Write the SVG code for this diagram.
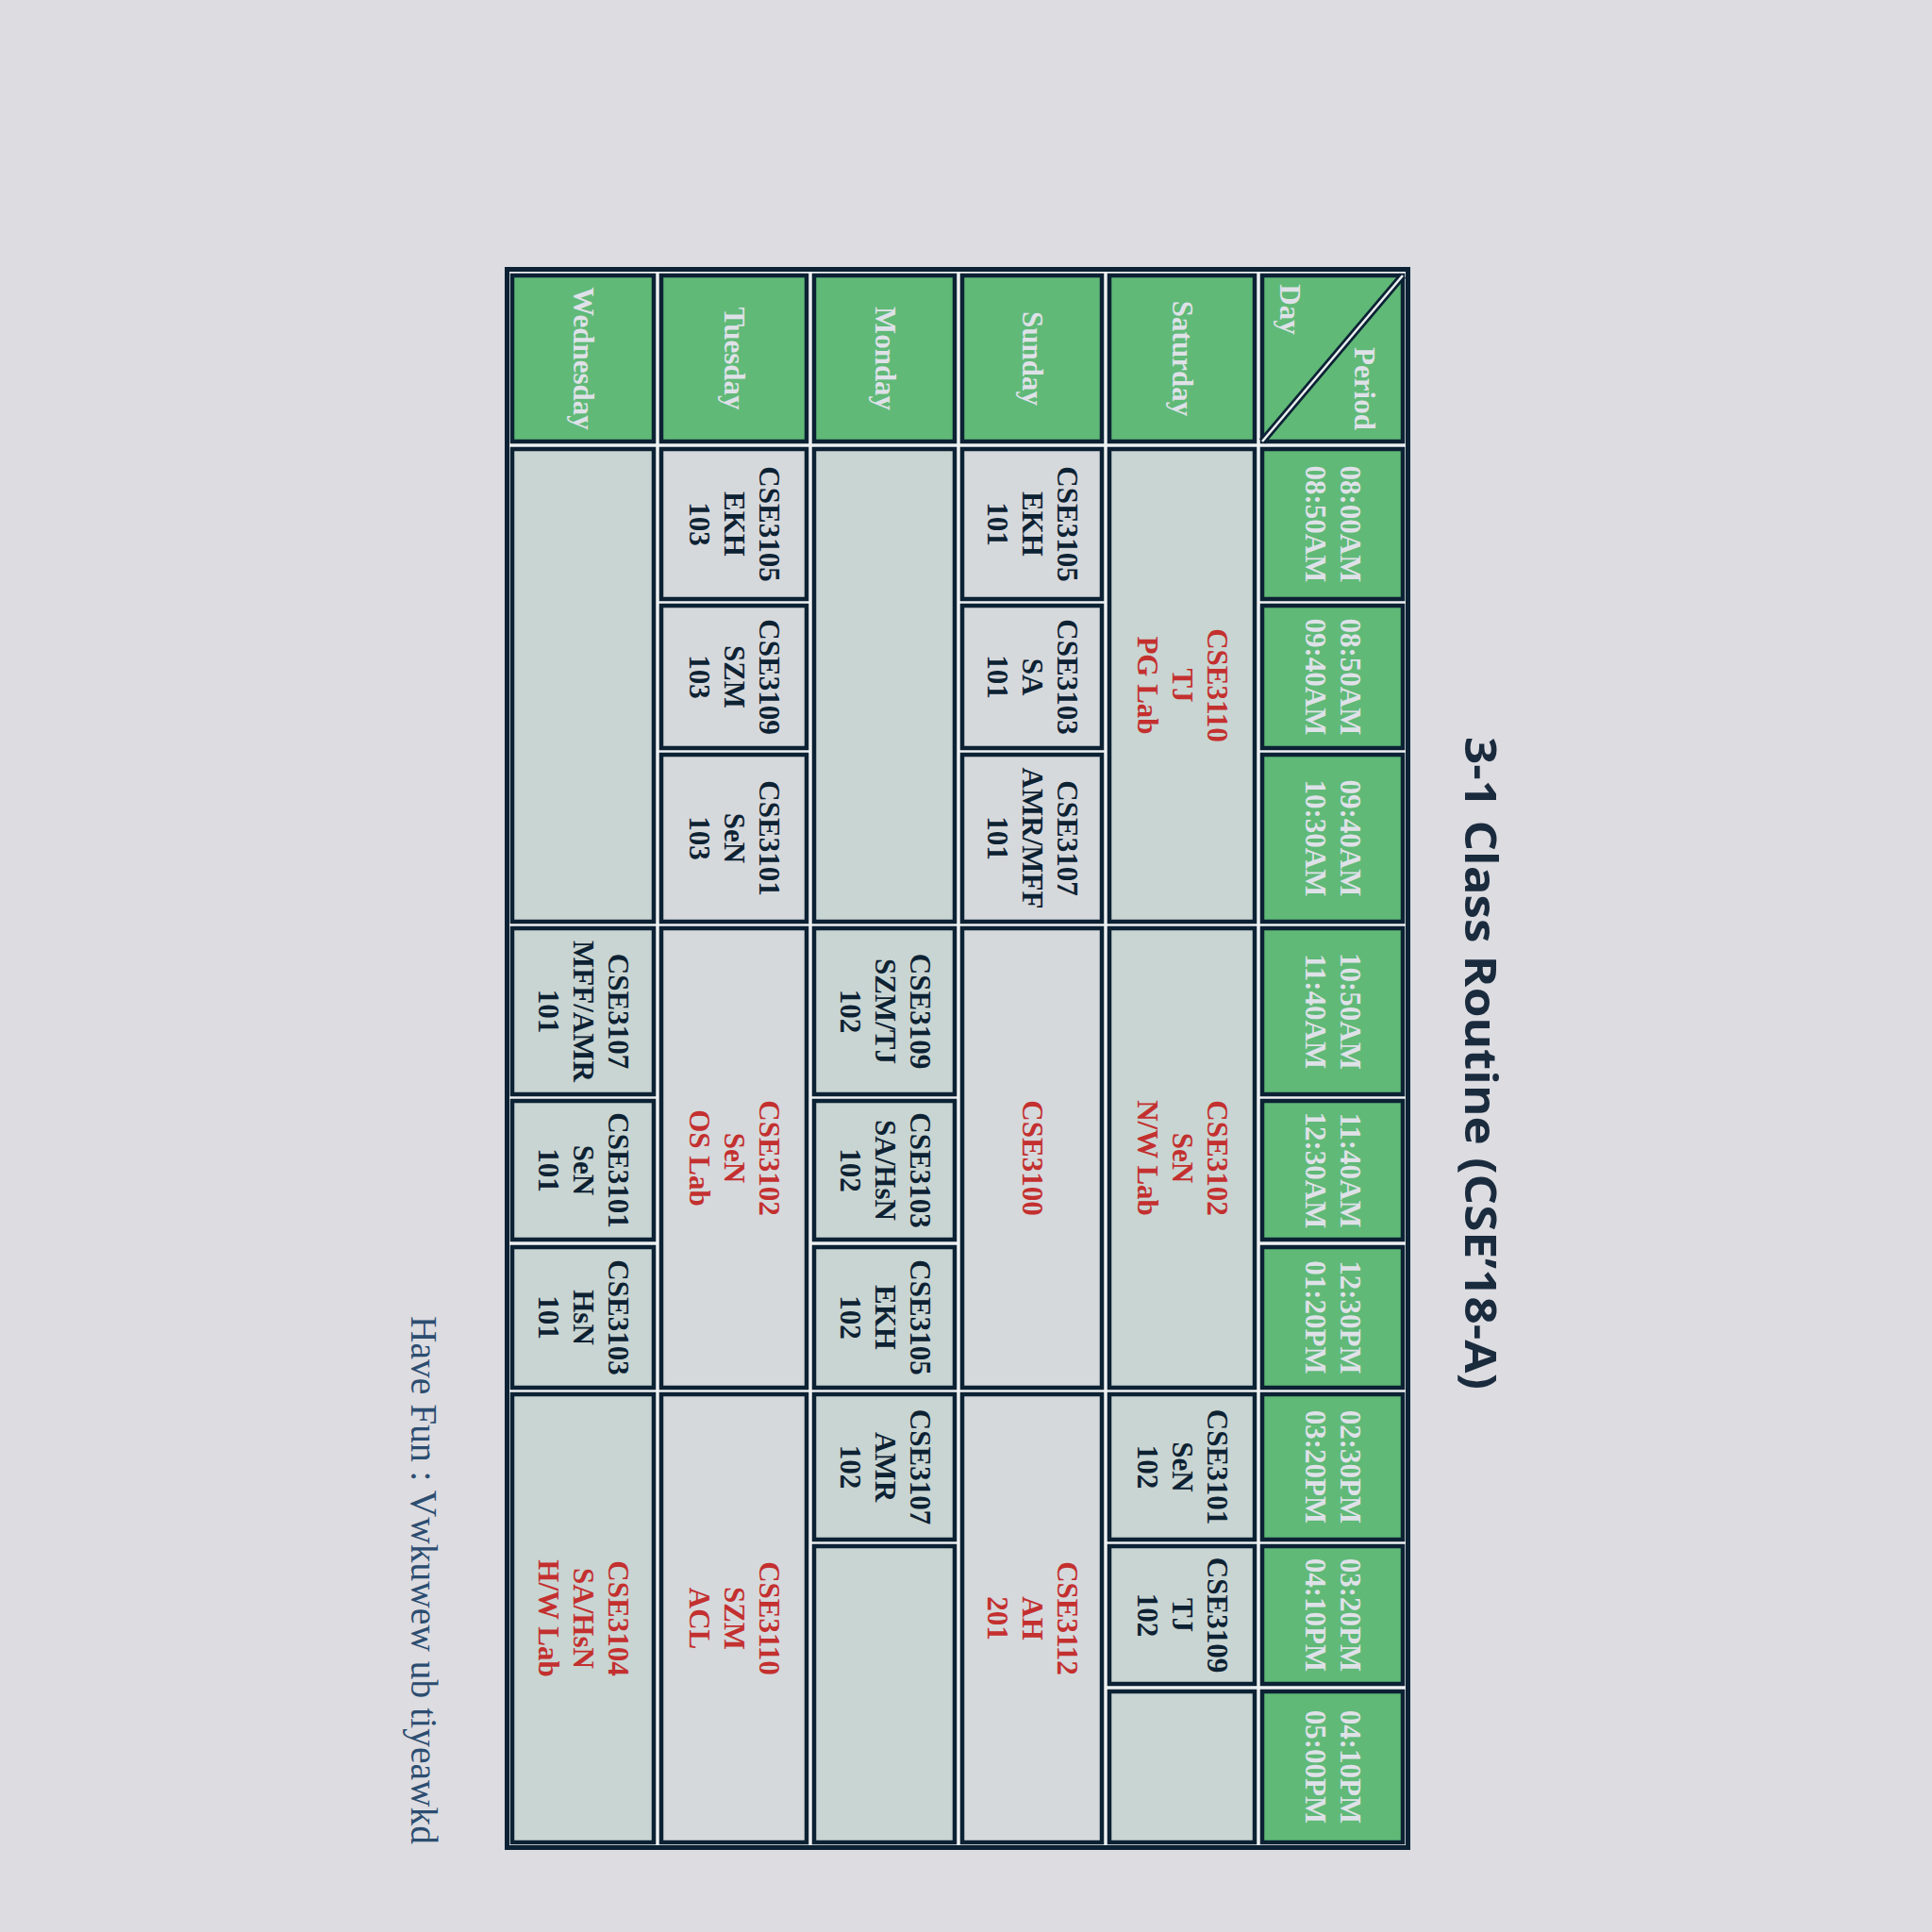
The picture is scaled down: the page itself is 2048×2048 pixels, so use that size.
<svg xmlns="http://www.w3.org/2000/svg" width="2048" height="2048" viewBox="0 0 2048 2048">
<style>
.bg{fill:#dcdce1}
.tbl{fill:#eef1f2;stroke:#0c2234;stroke-width:5}
.g{fill:#60b977;stroke:#0c2234;stroke-width:4.5}
.a{fill:#c9d5d2;stroke:#0c2234;stroke-width:4.5}
.b{fill:#d6d9dc;stroke:#0c2234;stroke-width:4.5}
text{font-family:"Liberation Serif","Times New Roman",serif;font-weight:bold;font-size:31px;text-anchor:middle}
.h{fill:#dfe1e8}
.d{fill:#0d2233}
.r{fill:#c3302f}
.title{font-family:"Open Sans","Noto Sans",sans-serif;font-weight:700;font-size:46px;fill:#1b2b3e}
.foot{font-family:"Liberation Serif","Times New Roman",serif;font-weight:normal;font-size:39px;fill:#2c4d70;text-anchor:start}
</style>
<rect class="bg" x="0" y="0" width="2048" height="2048"/>
<g id="title"><text class="title" transform="translate(1553,1127) rotate(90)" x="0" y="0" textLength="692" lengthAdjust="spacingAndGlyphs">3-1 Class Routine (CSE’18-A)</text></g>
<g id="footer"><text class="foot" transform="translate(436,1395) rotate(90)" x="0" y="0" textLength="560" lengthAdjust="spacingAndGlyphs">Have Fun :  Vwkuwew ub tiyeawkd</text></g>
<g id="table">
<rect class="tbl" x="537.5" y="285.5" width="955" height="1673"/>
</g>
<g id="connectors"></g>
<g id="hdr-corner">
<rect class="g" x="1338" y="292" width="149" height="176"/>
<line x1="1487" y1="292" x2="1338" y2="468" stroke="#0c2234" stroke-width="8"/>
<line x1="1487" y1="292" x2="1338" y2="468" stroke="#eef1f2" stroke-width="2.5"/>
<text class="h" transform="translate(1436,412) rotate(90)">Period</text>
<text class="h" transform="translate(1357,328) rotate(90)">Day</text>
</g>
<g id="t1"><rect class="g" x="1338" y="476" width="149" height="159"/><text class="h" transform="translate(1412.5,555.5) rotate(90)"><tspan x="0" y="-8.5">08:00AM</tspan><tspan x="0" y="28.5">08:50AM</tspan></text></g>
<g id="t2"><rect class="g" x="1338" y="642" width="149" height="151"/><text class="h" transform="translate(1412.5,717.5) rotate(90)"><tspan x="0" y="-8.5">08:50AM</tspan><tspan x="0" y="28.5">09:40AM</tspan></text></g>
<g id="t3"><rect class="g" x="1338" y="800" width="149" height="177"/><text class="h" transform="translate(1412.5,888.5) rotate(90)"><tspan x="0" y="-8.5">09:40AM</tspan><tspan x="0" y="28.5">10:30AM</tspan></text></g>
<g id="t4"><rect class="g" x="1338" y="984" width="149" height="176"/><text class="h" transform="translate(1412.5,1072) rotate(90)"><tspan x="0" y="-8.5">10:50AM</tspan><tspan x="0" y="28.5">11:40AM</tspan></text></g>
<g id="t5"><rect class="g" x="1338" y="1167" width="149" height="147"/><text class="h" transform="translate(1412.5,1240.5) rotate(90)"><tspan x="0" y="-8.5">11:40AM</tspan><tspan x="0" y="28.5">12:30AM</tspan></text></g>
<g id="t6"><rect class="g" x="1338" y="1322" width="149" height="149"/><text class="h" transform="translate(1412.5,1396.5) rotate(90)"><tspan x="0" y="-8.5">12:30PM</tspan><tspan x="0" y="28.5">01:20PM</tspan></text></g>
<g id="t7"><rect class="g" x="1338" y="1478" width="149" height="154"/><text class="h" transform="translate(1412.5,1555) rotate(90)"><tspan x="0" y="-8.5">02:30PM</tspan><tspan x="0" y="28.5">03:20PM</tspan></text></g>
<g id="t8"><rect class="g" x="1338" y="1639" width="149" height="146"/><text class="h" transform="translate(1412.5,1712) rotate(90)"><tspan x="0" y="-8.5">03:20PM</tspan><tspan x="0" y="28.5">04:10PM</tspan></text></g>
<g id="t9"><rect class="g" x="1338" y="1793" width="149" height="160"/><text class="h" transform="translate(1412.5,1873) rotate(90)"><tspan x="0" y="-8.5">04:10PM</tspan><tspan x="0" y="28.5">05:00PM</tspan></text></g>
<g id="d-sat"><rect class="g" x="1176" y="292" width="154" height="176"/><text class="h" transform="translate(1253,380) rotate(90)" y="10">Saturday</text></g>
<g id="d-sun"><rect class="g" x="1020" y="292" width="148" height="176"/><text class="h" transform="translate(1094,380) rotate(90)" y="10">Sunday</text></g>
<g id="d-mon"><rect class="g" x="863" y="292" width="149" height="176"/><text class="h" transform="translate(937.5,380) rotate(90)" y="10">Monday</text></g>
<g id="d-tue"><rect class="g" x="701" y="292" width="154" height="176"/><text class="h" transform="translate(778,380) rotate(90)" y="10">Tuesday</text></g>
<g id="d-wed"><rect class="g" x="543" y="292" width="150" height="176"/><text class="h" transform="translate(618,380) rotate(90)" y="10">Wednesday</text></g>
<g id="sat-1"><rect class="a" x="1176" y="476" width="154" height="501"/><text class="r" transform="translate(1253,726.5) rotate(90)"><tspan x="0" y="-27">CSE3110</tspan><tspan x="0" y="10">TJ</tspan><tspan x="0" y="47">PG Lab</tspan></text></g>
<g id="sat-2"><rect class="a" x="1176" y="984" width="154" height="487"/><text class="r" transform="translate(1253,1227.5) rotate(90)"><tspan x="0" y="-27">CSE3102</tspan><tspan x="0" y="10">SeN</tspan><tspan x="0" y="47">N/W Lab</tspan></text></g>
<g id="sat-3"><rect class="a" x="1176" y="1478" width="154" height="154"/><text class="d" transform="translate(1253,1555) rotate(90)"><tspan x="0" y="-27">CSE3101</tspan><tspan x="0" y="10">SeN</tspan><tspan x="0" y="47">102</tspan></text></g>
<g id="sat-4"><rect class="a" x="1176" y="1639" width="154" height="146"/><text class="d" transform="translate(1253,1712) rotate(90)"><tspan x="0" y="-27">CSE3109</tspan><tspan x="0" y="10">TJ</tspan><tspan x="0" y="47">102</tspan></text></g>
<g id="sat-5"><rect class="a" x="1176" y="1793" width="154" height="160"/></g>
<g id="sun-1"><rect class="b" x="1020" y="476" width="148" height="159"/><text class="d" transform="translate(1094,555.5) rotate(90)"><tspan x="0" y="-27">CSE3105</tspan><tspan x="0" y="10">EKH</tspan><tspan x="0" y="47">101</tspan></text></g>
<g id="sun-2"><rect class="b" x="1020" y="642" width="148" height="151"/><text class="d" transform="translate(1094,717.5) rotate(90)"><tspan x="0" y="-27">CSE3103</tspan><tspan x="0" y="10">SA</tspan><tspan x="0" y="47">101</tspan></text></g>
<g id="sun-3"><rect class="b" x="1020" y="800" width="148" height="177"/><text class="d" transform="translate(1094,888.5) rotate(90)"><tspan x="0" y="-27">CSE3107</tspan><tspan x="0" y="10">AMR/MFF</tspan><tspan x="0" y="47">101</tspan></text></g>
<g id="sun-4"><rect class="b" x="1020" y="984" width="148" height="487"/><text class="r" transform="translate(1094,1227.5) rotate(90)" y="10">CSE3100</text></g>
<g id="sun-5"><rect class="b" x="1020" y="1478" width="148" height="475"/><text class="r" transform="translate(1094,1715.5) rotate(90)"><tspan x="0" y="-27">CSE3112</tspan><tspan x="0" y="10">AH</tspan><tspan x="0" y="47">201</tspan></text></g>
<g id="mon-1"><rect class="a" x="863" y="476" width="149" height="501"/></g>
<g id="mon-2"><rect class="a" x="863" y="984" width="149" height="176"/><text class="d" transform="translate(937.5,1072) rotate(90)"><tspan x="0" y="-27">CSE3109</tspan><tspan x="0" y="10">SZM/TJ</tspan><tspan x="0" y="47">102</tspan></text></g>
<g id="mon-3"><rect class="a" x="863" y="1167" width="149" height="147"/><text class="d" transform="translate(937.5,1240.5) rotate(90)"><tspan x="0" y="-27">CSE3103</tspan><tspan x="0" y="10">SA/HsN</tspan><tspan x="0" y="47">102</tspan></text></g>
<g id="mon-4"><rect class="a" x="863" y="1322" width="149" height="149"/><text class="d" transform="translate(937.5,1396.5) rotate(90)"><tspan x="0" y="-27">CSE3105</tspan><tspan x="0" y="10">EKH</tspan><tspan x="0" y="47">102</tspan></text></g>
<g id="mon-5"><rect class="a" x="863" y="1478" width="149" height="154"/><text class="d" transform="translate(937.5,1555) rotate(90)"><tspan x="0" y="-27">CSE3107</tspan><tspan x="0" y="10">AMR</tspan><tspan x="0" y="47">102</tspan></text></g>
<g id="mon-6"><rect class="a" x="863" y="1639" width="149" height="314"/></g>
<g id="tue-1"><rect class="b" x="701" y="476" width="154" height="159"/><text class="d" transform="translate(778,555.5) rotate(90)"><tspan x="0" y="-27">CSE3105</tspan><tspan x="0" y="10">EKH</tspan><tspan x="0" y="47">103</tspan></text></g>
<g id="tue-2"><rect class="b" x="701" y="642" width="154" height="151"/><text class="d" transform="translate(778,717.5) rotate(90)"><tspan x="0" y="-27">CSE3109</tspan><tspan x="0" y="10">SZM</tspan><tspan x="0" y="47">103</tspan></text></g>
<g id="tue-3"><rect class="b" x="701" y="800" width="154" height="177"/><text class="d" transform="translate(778,888.5) rotate(90)"><tspan x="0" y="-27">CSE3101</tspan><tspan x="0" y="10">SeN</tspan><tspan x="0" y="47">103</tspan></text></g>
<g id="tue-4"><rect class="b" x="701" y="984" width="154" height="487"/><text class="r" transform="translate(778,1227.5) rotate(90)"><tspan x="0" y="-27">CSE3102</tspan><tspan x="0" y="10">SeN</tspan><tspan x="0" y="47">OS Lab</tspan></text></g>
<g id="tue-5"><rect class="b" x="701" y="1478" width="154" height="475"/><text class="r" transform="translate(778,1715.5) rotate(90)"><tspan x="0" y="-27">CSE3110</tspan><tspan x="0" y="10">SZM</tspan><tspan x="0" y="47">ACL</tspan></text></g>
<g id="wed-1"><rect class="a" x="543" y="476" width="150" height="501"/></g>
<g id="wed-2"><rect class="a" x="543" y="984" width="150" height="176"/><text class="d" transform="translate(618,1072) rotate(90)"><tspan x="0" y="-27">CSE3107</tspan><tspan x="0" y="10">MFF/AMR</tspan><tspan x="0" y="47">101</tspan></text></g>
<g id="wed-3"><rect class="a" x="543" y="1167" width="150" height="147"/><text class="d" transform="translate(618,1240.5) rotate(90)"><tspan x="0" y="-27">CSE3101</tspan><tspan x="0" y="10">SeN</tspan><tspan x="0" y="47">101</tspan></text></g>
<g id="wed-4"><rect class="a" x="543" y="1322" width="150" height="149"/><text class="d" transform="translate(618,1396.5) rotate(90)"><tspan x="0" y="-27">CSE3103</tspan><tspan x="0" y="10">HsN</tspan><tspan x="0" y="47">101</tspan></text></g>
<g id="wed-5"><rect class="a" x="543" y="1478" width="150" height="475"/><text class="r" transform="translate(618,1715.5) rotate(90)"><tspan x="0" y="-27">CSE3104</tspan><tspan x="0" y="10">SA/HsN</tspan><tspan x="0" y="47">H/W Lab</tspan></text></g>
</svg>
